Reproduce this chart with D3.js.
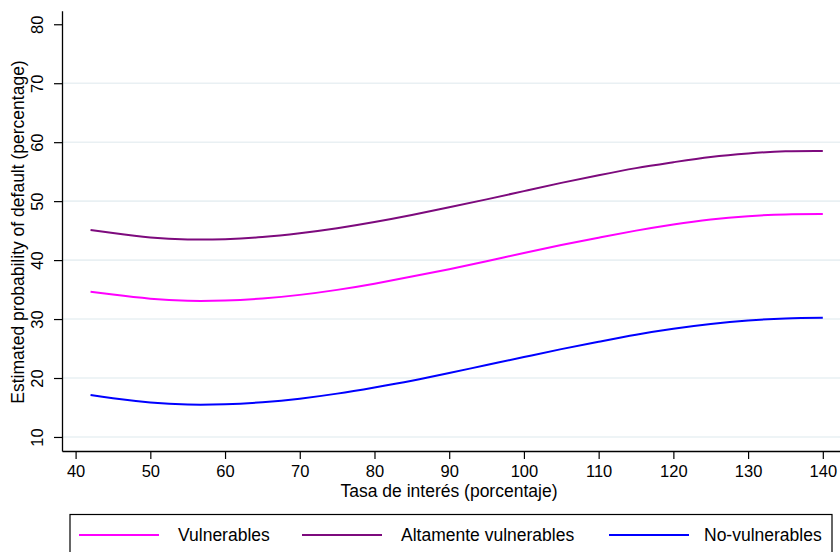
<!DOCTYPE html>
<html>
<head>
<meta charset="utf-8">
<script src="https://cdn.jsdelivr.net/npm/d3@7/dist/d3.min.js"></script>
<style>
  html, body { margin: 0; padding: 0; background: #fff; }
  svg { display: block; font-family: "Liberation Sans", Arial, sans-serif; }
</style>
</head>
<body>
<svg id="chart" width="840" height="552"></svg>
<script>
// Interest rate (percent) at which each curve is evaluated
const rates = [42, 45, 50, 55, 60, 65, 70, 75, 80, 85, 90, 95, 100, 105, 110, 115, 120, 125, 130, 135, 140];

// Estimated probability of default (percent) by group
const vulnerables = [34.65, 34.15, 33.45, 33.1, 33.15, 33.5, 34.1, 34.95, 36.0, 37.2, 38.45,
                     39.8, 41.2, 42.55, 43.8, 45.0, 46.05, 46.9, 47.45, 47.75, 47.8];
const altamente   = [45.1, 44.6, 43.85, 43.5, 43.55, 43.9, 44.55, 45.4, 46.45, 47.65, 48.95,
                     50.3, 51.7, 53.1, 54.4, 55.6, 56.6, 57.5, 58.1, 58.45, 58.5];
const noVuln      = [17.1, 16.55, 15.85, 15.5, 15.55, 15.9, 16.5, 17.35, 18.4, 19.55, 20.85,
                     22.2, 23.55, 24.9, 26.15, 27.35, 28.35, 29.15, 29.75, 30.1, 30.2];

const xTicks = [40, 50, 60, 70, 80, 90, 100, 110, 120, 130, 140];
const yTicks = [10, 20, 30, 40, 50, 60, 70, 80];
const gridTicks = [10, 20, 30, 40, 50, 60, 70];

const seriesNames = ["Vulnerables", "Altamente vulnerables", "No-vulnerables"];
const seriesColors = ["#ff00ff", "#7d0a7d", "#0000ff"];
const seriesValues = [vulnerables, altamente, noVuln];

const svg = d3.select("#chart");

const x = d3.scaleLinear().domain([38.18, 142.3]).range([62, 840]);
const y = d3.scaleLinear().domain([7.62, 82.3]).range([451, 10.7]);

// horizontal grid
svg.append("g")
  .selectAll("line")
  .data(gridTicks)
  .join("line")
  .attr("x1", 63).attr("x2", 840)
  .attr("y1", d => y(d)).attr("y2", d => y(d))
  .attr("stroke", "#e9f0f3")
  .attr("stroke-width", 1.6);

// curves
const line = d3.line()
  .x(d => x(d[0]))
  .y(d => y(d[1]))
  .curve(d3.curveNatural);

seriesValues.forEach((vals, i) => {
  svg.append("path")
    .datum(rates.map((r, j) => [r, vals[j]]))
    .attr("d", line)
    .attr("fill", "none")
    .attr("stroke", seriesColors[i])
    .attr("stroke-width", 2);
});

// x axis
const xAxis = svg.append("g")
  .attr("transform", "translate(0,451)")
  .call(d3.axisBottom(x).tickValues(xTicks).tickSize(8).tickSizeOuter(0).tickPadding(6));
xAxis.select(".domain").attr("stroke", "#000").attr("stroke-width", 1.3);
xAxis.selectAll(".tick line").attr("stroke", "#000").attr("stroke-width", 1.2);
xAxis.selectAll(".tick text")
  .attr("font-size", "16.5px")
  .attr("fill", "#000")
  .attr("font-family", "Liberation Sans, Arial, sans-serif");

// y axis
const yAxis = svg.append("g")
  .attr("transform", "translate(62,0)")
  .call(d3.axisLeft(y).tickValues(yTicks).tickSize(8).tickSizeOuter(0));
yAxis.select(".domain").attr("stroke", "#000").attr("stroke-width", 1.3);
yAxis.selectAll(".tick line").attr("stroke", "#000").attr("stroke-width", 1.2);
yAxis.selectAll(".tick text")
  .attr("font-size", "16.5px")
  .attr("fill", "#000")
  .attr("font-family", "Liberation Sans, Arial, sans-serif")
  .attr("x", null).attr("dy", null)
  .attr("text-anchor", "middle")
  .attr("transform", "translate(-19,0) rotate(-90)");

// axis titles
svg.append("text")
  .attr("x", 449).attr("y", 497)
  .attr("text-anchor", "middle")
  .attr("font-size", "17.5px")
  .attr("fill", "#000")
  .text("Tasa de interés (porcentaje)");

svg.append("text")
  .attr("transform", "translate(24,232) rotate(-90)")
  .attr("text-anchor", "middle")
  .attr("font-size", "17.5px")
  .attr("fill", "#000")
  .text("Estimated probability of default (percentage)");

// legend
const legend = svg.append("g");
legend.append("rect")
  .attr("x", 70).attr("y", 514.5)
  .attr("width", 762).attr("height", 45)
  .attr("fill", "#fff")
  .attr("stroke", "#000")
  .attr("stroke-width", 1.2);

const legendLineX = [79, 302, 609];
const legendTextX = [178, 401, 704];
seriesNames.forEach((name, i) => {
  legend.append("line")
    .attr("x1", legendLineX[i]).attr("x2", legendLineX[i] + 80)
    .attr("y1", 535).attr("y2", 535)
    .attr("stroke", seriesColors[i])
    .attr("stroke-width", 2);
  legend.append("text")
    .attr("x", legendTextX[i]).attr("y", 541)
    .attr("font-size", "17.5px")
    .attr("fill", "#000")
    .text(name);
});
</script>
</body>
</html>
